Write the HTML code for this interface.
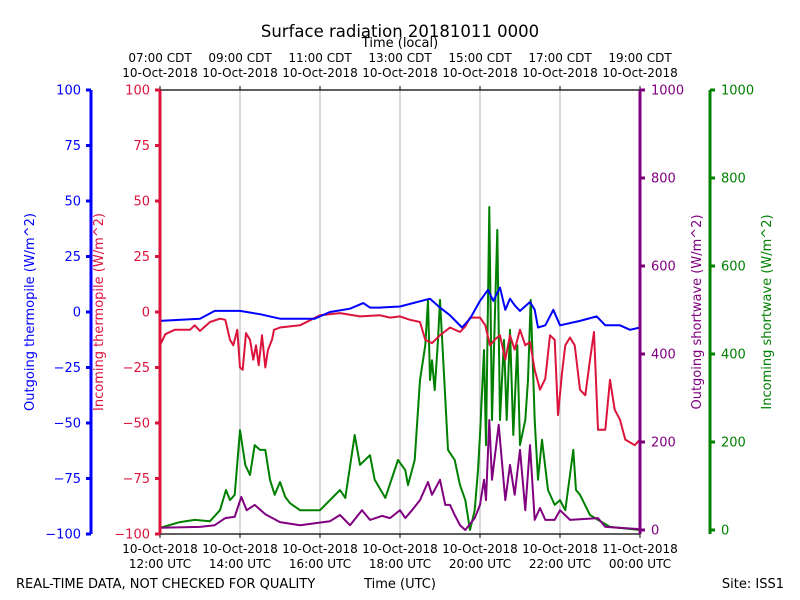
<!DOCTYPE html>
<html><head><meta charset="utf-8"><style>
body{margin:0;background:#fff}
svg{display:block;font-family:"DejaVu Sans","Liberation Sans",sans-serif}
</style></head><body>
<svg id="chart" width="800" height="600" viewBox="0 0 800 600" xmlns="http://www.w3.org/2000/svg">
<rect width="800" height="600" fill="#fff"/>
<text x="400" y="37" font-size="16.5" text-anchor="middle">Surface radiation 20181011 0000</text>
<text x="400" y="47" font-size="13" text-anchor="middle">Time (local)</text>
<text x="16" y="588" font-size="13">REAL-TIME DATA, NOT CHECKED FOR QUALITY</text>
<text x="400" y="588" font-size="13" text-anchor="middle">Time (UTC)</text>
<text x="784" y="588" font-size="13" text-anchor="end">Site: ISS1</text>
<g id="grid"></g><g id="series"></g><g id="axes"></g>
</svg>
<script>
// minutes after 12:00 UTC, values
const blueT=[0,60,82,120,150,180,232,255,285,305,315,330,360,405,420,435,453,465,480,492,500,510,518,525,532,540,555,562,567,578,590,600,630,655,668,690,705,720];
const blueV=[-4,-3,0.5,0.5,-1,-3,-3,0,1.5,4,2,2,2.5,6,2,-1.5,-7,-3,5,10,5,11,1,6,3,0.5,4.5,1,-7,-6,1,-6,-4,-2,-6,-6,-8,-7];
const redT=[0,8,22,45,52,60,75,90,98,105,110,116,120,124,129,135,140,144,148,153,158,162,168,171,180,210,240,270,300,330,345,360,375,390,398,408,420,435,450,458,465,480,488,495,502,510,518,525,532,540,548,555,562,570,578,585,592,597,603,608,615,622,630,638,645,651,657,668,675,682,690,698,712,720];
const redV=[-15,-10,-8,-8,-6,-8.5,-4.5,-3,-3.5,-12.5,-15,-8,-25,-26,-9.5,-12.5,-21.5,-15,-24,-10.5,-25,-17,-12.5,-8,-7,-6,-1.5,-0.5,-2,-1.5,-2.5,-2,-3.5,-4.5,-12.5,-14,-10.5,-7,-9,-6.5,-2.5,-2.5,-6,-15,-12.5,-10.5,-21.5,-10.5,-17,-8,-15,-13.5,-26,-35,-30,-10.5,-12.5,-46.5,-27.5,-15,-11.5,-15,-35,-37.5,-21.5,-9,-53,-53,-30.5,-44,-48.5,-57.5,-60,-57.5];
const greenT=[0,30,52,75,90,99,105,112,120,128,135,142,150,158,165,172,180,188,195,210,240,270,278,292,300,315,322,338,357,368,372,382,390,398,402,405,408,412,417,420,424,432,442,450,458,465,472,477,480,486,489,494,498,506,510,516,520,525,530,536,540,548,552,556,562,567,573,582,592,600,608,620,624,630,645,657,675,720];
const greenV=[5,18,23,20,45,91,68,80,227,148,125,193,182,182,114,80,109,75,61,45,45,91,73,216,148,170,114,73,159,136,102,159,341,420,523,341,386,318,432,523,409,182,159,102,68,0,45,136,216,409,193,734,250,682,250,432,250,455,216,420,193,250,341,523,250,114,205,91,57,68,45,182,91,80,34,23,7,0];
const purpleT=[0,60,82,98,112,122,130,142,158,180,210,255,270,285,303,315,333,345,360,368,378,390,402,408,420,428,435,442,450,458,472,480,486,489,494,498,508,518,525,532,540,548,555,562,570,578,592,600,615,657,668,720];
const purpleV=[5,7,11,27,30,75,45,57,36,18,11,20,34,11,45,23,32,27,45,27,45,68,109,80,114,57,57,34,11,0,27,57,114,68,250,114,239,68,148,80,182,45,193,23,50,23,23,45,23,27,7,2];
const leftTicks=[-100,-75,-50,-25,0,25,50,75,100];
const rightTicks=[0,200,400,600,800,1000];
const utcLabels=["12:00 UTC","14:00 UTC","16:00 UTC","18:00 UTC","20:00 UTC","22:00 UTC","00:00 UTC"];
const utcDates=["10-Oct-2018","10-Oct-2018","10-Oct-2018","10-Oct-2018","10-Oct-2018","10-Oct-2018","11-Oct-2018"];
const cdtLabels=["07:00 CDT","09:00 CDT","11:00 CDT","13:00 CDT","15:00 CDT","17:00 CDT","19:00 CDT"];
const cdtDates=["10-Oct-2018","10-Oct-2018","10-Oct-2018","10-Oct-2018","10-Oct-2018","10-Oct-2018","10-Oct-2018"];

const NS="http://www.w3.org/2000/svg";
const X0=160,X1=640,YT=90,YB=534;
const x=m=>X0+(m/720)*(X1-X0);
const yL=v=>YB-(v+100)/200*(YB-YT);
const yR=v=>530-v*0.44;
function mk(tag,attrs,parent,txt){const e=document.createElementNS(NS,tag);for(const k in attrs)e.setAttribute(k,attrs[k]);if(txt!==undefined)e.textContent=txt;parent.appendChild(e);return e;}
const grid=document.getElementById('grid'),ser=document.getElementById('series'),ax=document.getElementById('axes');
mk('rect',{x:X0,y:YT,width:X1-X0,height:YB-YT,fill:'#fff'},grid);
for(let i=1;i<6;i++){const g=mk('line',{x1:x(i*120),x2:x(i*120),y1:YT,y2:YB,stroke:'#b0b0b0','stroke-width':1},grid);

}
function line(T,V,yf,col,name){const d=T.map((t,i)=>(i?'L':'M')+x(t).toFixed(1)+','+yf(V[i]).toFixed(1)).join('');
const p=mk('path',{d:d,fill:'none',stroke:col,'stroke-width':2,'stroke-linejoin':'round'},ser);

}
line(greenT,greenV,yR,'#008000','incoming-shortwave-line');
line(purpleT,purpleV,yR,'#800080','outgoing-shortwave-line');
line(redT,redV,yL,'#dc143c','incoming-thermopile-line');
line(blueT,blueV,yL,'#0000ff','outgoing-thermopile-line');
mk('line',{x1:X0,x2:X1,y1:YT,y2:YT,stroke:'#000','stroke-width':1.2},ax);
mk('line',{x1:X0,x2:X1,y1:YB,y2:YB,stroke:'#000','stroke-width':1.2},ax);
for(let i=0;i<7;i++){const xx=x(i*120);
mk('line',{x1:xx,x2:xx,y1:YB,y2:YB+4,stroke:'#000'},ax);
mk('line',{x1:xx,x2:xx,y1:YT,y2:YT-4,stroke:'#000'},ax);
const a=mk('text',{x:xx,y:553,'font-size':12,'text-anchor':'middle'},ax,utcDates[i]);


const b=mk('text',{x:xx,y:568,'font-size':12,'text-anchor':'middle'},ax,utcLabels[i]);


const c=mk('text',{x:xx,y:62,'font-size':12,'text-anchor':'middle'},ax,cdtLabels[i]);


const d=mk('text',{x:xx,y:77,'font-size':12,'text-anchor':'middle'},ax,cdtDates[i]);

}
function leftAxis(sx,col,labx,name,title,tx){
mk('line',{x1:sx,x2:sx,y1:YT,y2:YB,stroke:col,'stroke-width':3},ax);
leftTicks.forEach(v=>{const yy=yL(v);mk('line',{x1:sx-5,x2:sx,y1:yy,y2:yy,stroke:col,'stroke-width':3},ax);
const t=mk('text',{x:labx,y:yy+4.5,'font-size':13,'text-anchor':'end',fill:col},ax,v<0?'\u2212'+(-v):String(v));

});
const tt=mk('text',{x:tx,y:312,'font-size':13,'text-anchor':'middle',fill:col,transform:`rotate(-90 ${tx} 312)`},ax,title);

}
leftAxis(91,'#0000ff',81,'outgoing-thermopile','Outgoing thermopile (W/m^2)',34);
leftAxis(160,'#dc143c',150,'incoming-thermopile','Incoming thermopile (W/m^2)',103);
function rightAxis(sx,col,labx,name,title,tx){
mk('line',{x1:sx,x2:sx,y1:YT,y2:YB,stroke:col,'stroke-width':3},ax);
rightTicks.forEach(v=>{const yy=yR(v);mk('line',{x1:sx,x2:sx+5,y1:yy,y2:yy,stroke:col,'stroke-width':3},ax);
const t=mk('text',{x:labx,y:yy+4.5,'font-size':13,'text-anchor':'start',fill:col},ax,String(v));

});
const tt=mk('text',{x:tx,y:312,'font-size':13,'text-anchor':'middle',fill:col,transform:`rotate(-90 ${tx} 312)`},ax,title);

}
rightAxis(640,'#800080',651,'outgoing-shortwave','Outgoing shortwave (W/m^2)',701);
rightAxis(710,'#008000',721,'incoming-shortwave','Incoming shortwave (W/m^2)',771);
</script>
</body></html>
